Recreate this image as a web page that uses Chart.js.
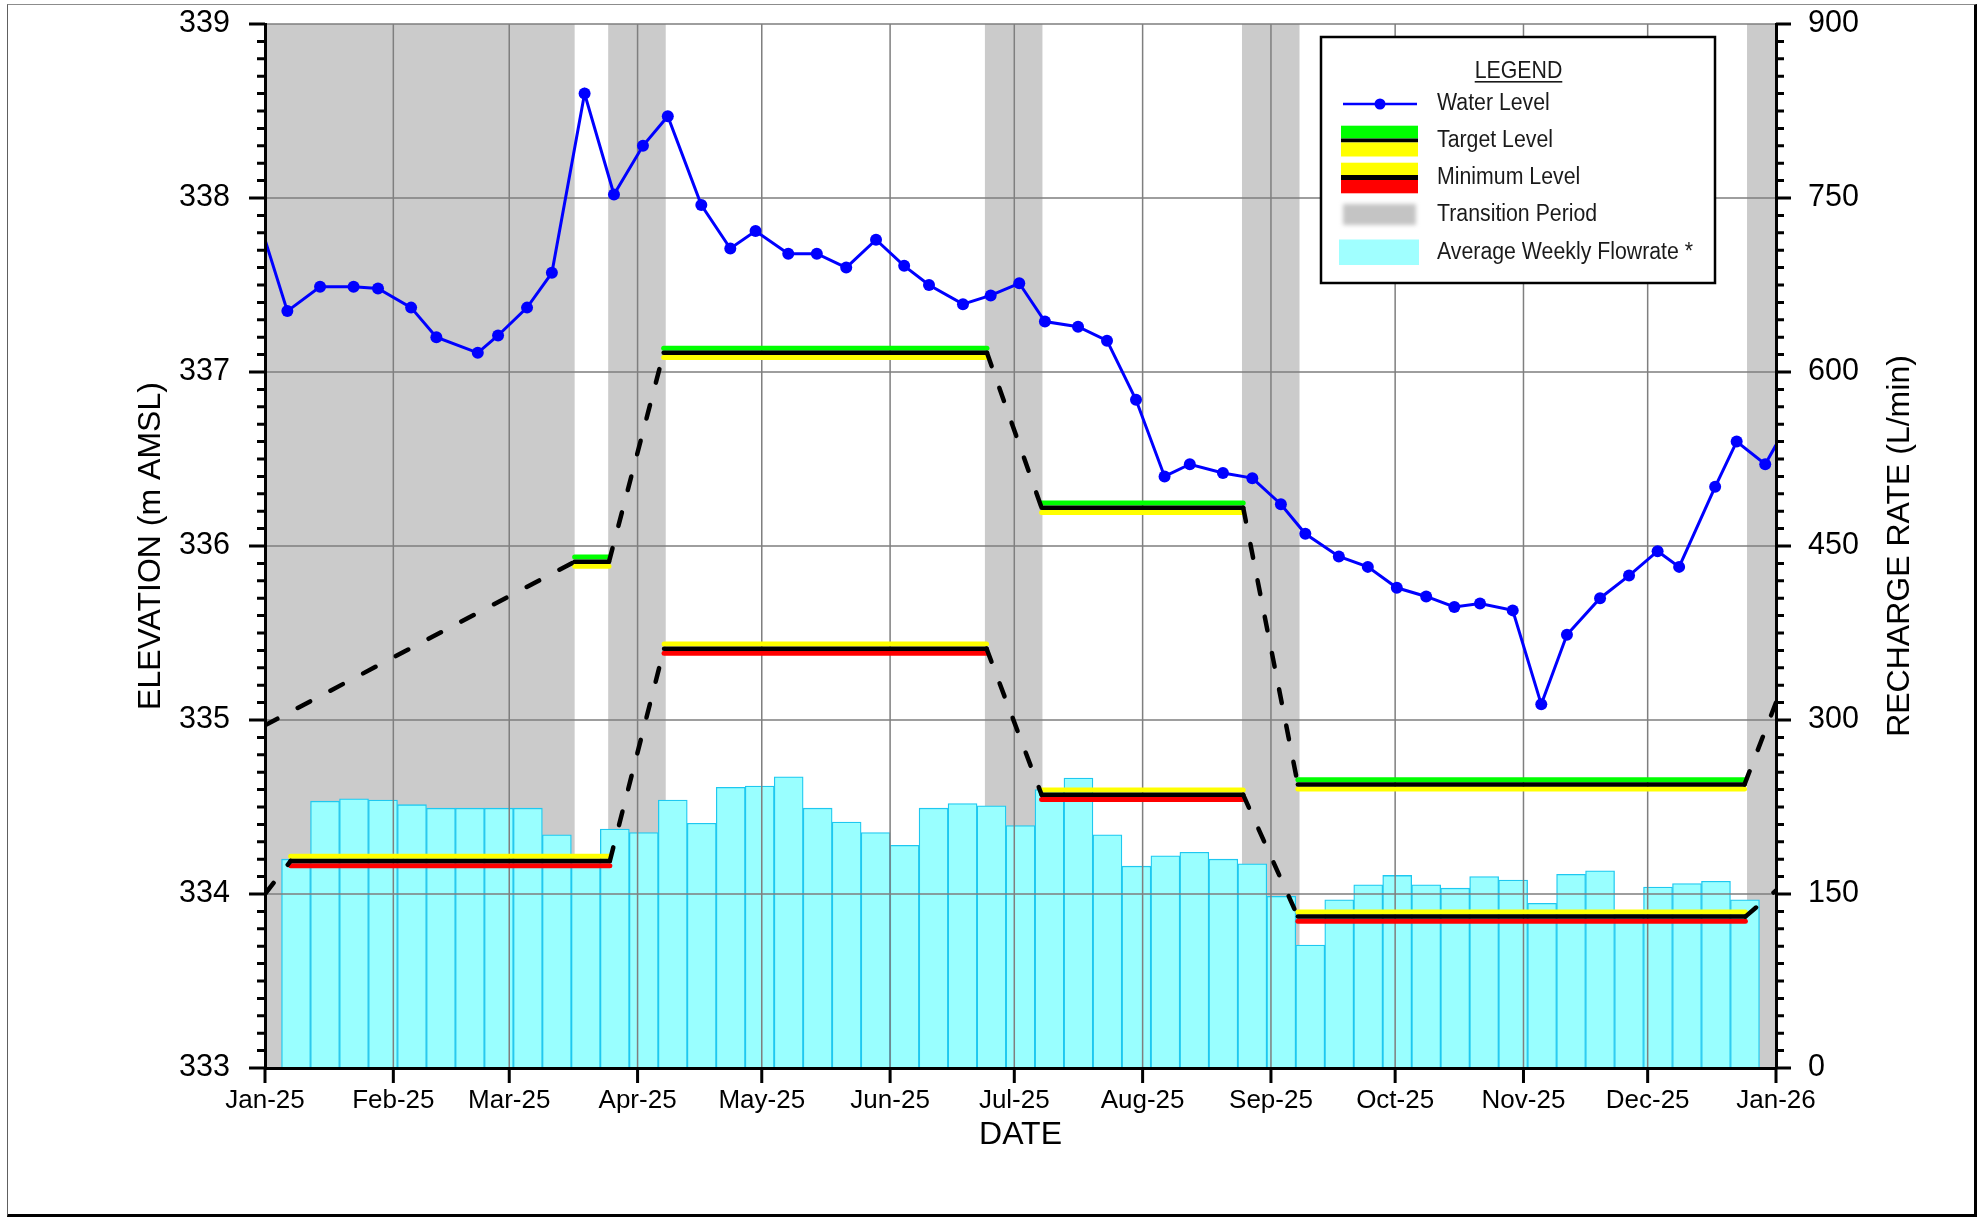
<!DOCTYPE html>
<html>
<head>
<meta charset="utf-8">
<title>Water Level and Recharge Rate 2025</title>
<script src="https://cdn.jsdelivr.net/npm/chart.js@4/dist/chart.umd.min.js"></script>
<style>
  html, body { margin: 0; padding: 0; background: #fff; }
  #wrap { position: relative; width: 1978px; height: 1217px; overflow: hidden; background: #fff; }
  #c { position: absolute; left: 0; top: 0; }
  #frame {
    position: absolute; left: 7px; top: 3.5px; width: 1970px; height: 1213px;
    box-sizing: border-box; pointer-events: none;
    border-top: 1.5px solid #8c8c8c; border-left: 1.5px solid #606060;
    border-right: 3px solid #000; border-bottom: 3px solid #000;
  }
</style>
</head>
<body>
<div id="wrap">
  <canvas id="c" width="1978" height="1217"></canvas>
  <div id="frame"></div>
</div>
<script>
// ---------- axis ticks (x values are days since 1 Jan 2025) ----------
const monthDays   = [0, 31, 59, 90, 120, 151, 181, 212, 243, 273, 304, 334, 365];
const monthLabels = ['Jan-25', 'Feb-25', 'Mar-25', 'Apr-25', 'May-25', 'Jun-25', 'Jul-25',
                     'Aug-25', 'Sep-25', 'Oct-25', 'Nov-25', 'Dec-25', 'Jan-26'];
const elevTicks = [333, 334, 335, 336, 337, 338, 339];
const rateTicks = [0, 150, 300, 450, 600, 750, 900];

// ---------- water level (m AMSL) ----------
const waterDay = [0, 5.4, 13.3, 21.4, 27.3, 35.3, 41.4, 51.4, 56.3, 63.3, 69.3, 77.2, 84.3, 91.3,
  97.3, 105.4, 112.4, 118.5, 126.4, 133.3, 140.4, 147.6, 154.4, 160.4, 168.6, 175.3, 182.2, 188.4,
  196.4, 203.4, 210.4, 217.3, 223.4, 231.4, 238.5, 245.4, 251.3, 259.4, 266.4, 273.4, 280.5, 287.3,
  293.5, 301.4, 308.3, 314.5, 322.5, 329.5, 336.4, 341.6, 350.3, 355.5, 362.4, 365];
const waterElev = [337.76, 337.35, 337.49, 337.49, 337.48, 337.37, 337.20, 337.11, 337.21, 337.37,
  337.57, 338.60, 338.02, 338.30, 338.47, 337.96, 337.71, 337.81, 337.68, 337.68, 337.60, 337.76,
  337.61, 337.50, 337.39, 337.44, 337.51, 337.29, 337.26, 337.18, 336.84, 336.40, 336.47, 336.42,
  336.39, 336.24, 336.07, 335.94, 335.88, 335.76, 335.71, 335.65, 335.67, 335.63, 335.09, 335.49,
  335.70, 335.83, 335.97, 335.88, 336.34, 336.60, 336.47, 336.58];

// ---------- target and minimum levels (m AMSL) ----------
const targetDay  = [0, 74.8, 83.1, 96.3, 174.4, 187.6, 236.3, 249.5, 357.4, 365];
const targetElev = [334.97, 335.91, 335.91, 337.11, 337.11, 336.22, 336.22, 334.63, 334.63, 335.10];
const minDay     = [0, 6.2, 83.3, 96.4, 174.3, 187.6, 236.3, 249.5, 357.6, 365];
const minElev    = [334.00, 334.19, 334.19, 335.41, 335.41, 334.57, 334.57, 333.87, 333.87, 334.02];

// ---------- transition periods (days) ----------
const transitionStart = [0, 82.9, 173.9, 236.0, 358.0];
const transitionEnd   = [74.8, 96.8, 187.8, 249.9, 365];

// ---------- average weekly flowrate (L/min), weeks starting on these days ----------
const flowWeekStart = [4, 11, 18, 25, 32, 39, 46, 53, 60, 67, 74, 81, 88, 95, 102, 109, 116, 123,
  130, 137, 144, 151, 158, 165, 172, 179, 186, 193, 200, 207, 214, 221, 228, 235, 242, 249, 256,
  263, 270, 277, 284, 291, 298, 305, 312, 319, 326, 333, 340, 347, 354];
const flowRate = [180, 230, 232, 231, 227, 224, 224, 224, 224, 201, 178, 206, 203, 231, 211, 242,
  243, 251, 224, 212, 203, 192, 224, 228, 226, 209, 240, 250, 201, 174, 183, 186, 180, 176, 148,
  106, 145, 158, 166, 158, 155, 165, 162, 142, 167, 170, 133, 156, 159, 161, 145];

const legendLabels = ['Water Level', 'Target Level', 'Minimum Level', 'Transition Period',
                      'Average Weekly Flowrate *'];

// ---------- styling ----------
const FONT = "'Liberation Sans', Arial, Helvetica, sans-serif";
const BLUE = 'rgb(0,0,255)';
const GREEN = 'rgb(0,255,0)';
const YELLOW = 'rgb(255,255,0)';
const RED = 'rgb(255,0,0)';
const SHADE = '#cbcbcb';
const GRID = '#7f7f7f';
const WEEK = 7;

Chart.defaults.font.family = FONT;
Chart.defaults.color = '#000';

const pts = (xs, ys) => xs.map((x, i) => ({ x, y: ys[i] }));
const flat = ctx => Math.abs(ctx.p0.y - ctx.p1.y) < 0.5;
const flowData = flowWeekStart.map((d, i) => ({ x: d + WEEK / 2, y: flowRate[i] }));

// one coloured band beside a level line (shifted a few pixels above or below it)
function band(label, xs, ys, color, shift) {
  return {
    type: 'line', label, data: pts(xs, ys), xAxisID: 'x', yAxisID: 'y',
    borderWidth: 5, pointRadius: 0, borderCapStyle: 'round', fill: false,
    segment: { borderColor: ctx => flat(ctx) ? color : 'rgba(0,0,0,0)' },
    yShift: shift, order: 2
  };
}
function levelLine(label, xs, ys) {
  return {
    type: 'line', label, data: pts(xs, ys), xAxisID: 'x', yAxisID: 'y',
    borderColor: '#000', borderWidth: 4.5, pointRadius: 0, borderCapStyle: 'round', fill: false,
    segment: { borderDash: ctx => flat(ctx) ? [] : [14, 23] },
    order: 1
  };
}

// keep the plot area fixed: the axis boxes are given exact sizes and no extra padding
function fixBox(size, horizontal) {
  return s => {
    if (horizontal) s.height = size; else s.width = size;
    s.paddingTop = 0; s.paddingBottom = 0;
    if (!horizontal) { s.paddingLeft = 0; s.paddingRight = 0; }
  };
}

// shaded transition periods behind everything
const shadePlugin = {
  id: 'shade',
  beforeDraw(chart) {
    const { ctx, chartArea: a, scales: { x } } = chart;
    ctx.save();
    ctx.fillStyle = SHADE;
    transitionStart.forEach((s, i) => {
      const x0 = x.getPixelForValue(s), x1 = x.getPixelForValue(transitionEnd[i]);
      ctx.fillRect(x0, a.top, x1 - x0, a.bottom - a.top);
    });
    ctx.restore();
  }
};

// level bands are offset vertically from their level line
const shiftPlugin = {
  id: 'shift',
  beforeDatasetDraw(chart, args) {
    const ds = chart.data.datasets[args.index];
    if (ds.yShift) { chart.ctx.save(); chart.ctx.translate(0, ds.yShift); }
  },
  afterDatasetDraw(chart, args) {
    const ds = chart.data.datasets[args.index];
    if (ds.yShift) chart.ctx.restore();
  }
};

// grid lines sit on top of the flowrate bars but below the level lines
const gridPlugin = {
  id: 'gridOverBars',
  afterDatasetDraw(chart, args) {
    if (chart.data.datasets[args.index].type !== 'bar') return;
    const { ctx, chartArea: a, scales: { x, y } } = chart;
    ctx.save();
    ctx.strokeStyle = GRID;
    ctx.lineWidth = 1.5;
    ctx.beginPath();
    elevTicks.slice(1).forEach(v => {
      const py = y.getPixelForValue(v);
      ctx.moveTo(a.left, py); ctx.lineTo(a.right, py);
    });
    monthDays.slice(1, -1).forEach(d => {
      const px = x.getPixelForValue(d);
      ctx.moveTo(px, a.top); ctx.lineTo(px, a.bottom);
    });
    ctx.stroke();
    ctx.restore();
  }
};

// major / minor tick marks, right-hand axis title and the legend box
const decorPlugin = {
  id: 'decor',
  afterDraw(chart) {
    const { ctx, chartArea: a, scales: { x, y, y1 } } = chart;
    ctx.save();
    ctx.strokeStyle = '#000';
    ctx.lineWidth = 3;
    ctx.beginPath();
    for (let i = 0; i < elevTicks.length; i++) {
      const steps = i < elevTicks.length - 1 ? 10 : 1;
      for (let k = 0; k < steps; k++) {
        const v = elevTicks[i] + (i < elevTicks.length - 1 ? (elevTicks[i + 1] - elevTicks[i]) * k / 10 : 0);
        const py = y.getPixelForValue(v);
        ctx.moveTo(a.left - (k === 0 ? 16 : 8), py); ctx.lineTo(a.left, py);
      }
    }
    for (let i = 0; i < rateTicks.length; i++) {
      const steps = i < rateTicks.length - 1 ? 10 : 1;
      for (let k = 0; k < steps; k++) {
        const v = rateTicks[i] + (i < rateTicks.length - 1 ? (rateTicks[i + 1] - rateTicks[i]) * k / 10 : 0);
        const py = y1.getPixelForValue(v);
        ctx.moveTo(a.right, py); ctx.lineTo(a.right + (k === 0 ? 15 : 8), py);
      }
    }
    monthDays.forEach(d => {
      const px = x.getPixelForValue(d);
      ctx.moveTo(px, a.bottom); ctx.lineTo(px, a.bottom + 15);
    });
    ctx.stroke();

    // right-hand axis title, read bottom to top
    ctx.save();
    ctx.translate(1900, (a.top + a.bottom) / 2);
    ctx.rotate(-Math.PI / 2);
    ctx.font = `32px ${FONT}`;
    ctx.fillStyle = '#000';
    ctx.textAlign = 'center';
    ctx.textBaseline = 'middle';
    ctx.fillText('RECHARGE RATE (L/min)', 0, 0);
    ctx.restore();

    // legend
    const L = { x: 1321, y: 37, w: 394, h: 246 };
    ctx.fillStyle = '#fff';
    ctx.fillRect(L.x, L.y, L.w, L.h);
    ctx.lineWidth = 2.5;
    ctx.strokeStyle = '#000';
    ctx.strokeRect(L.x, L.y, L.w, L.h);

    const sx = 1341, sw = 77;
    ctx.save();
    ctx.filter = 'blur(0.4px)';
    // water level symbol
    ctx.strokeStyle = BLUE; ctx.lineWidth = 2.5;
    ctx.beginPath(); ctx.moveTo(1343, 104); ctx.lineTo(1417, 104); ctx.stroke();
    ctx.fillStyle = BLUE;
    ctx.beginPath(); ctx.arc(1380, 104, 5.5, 0, Math.PI * 2); ctx.fill();
    // target level swatch
    ctx.fillStyle = GREEN;  ctx.fillRect(sx, 125.7, sw, 12.8);
    ctx.fillStyle = '#000'; ctx.fillRect(sx, 138.5, sw, 4);
    ctx.fillStyle = YELLOW; ctx.fillRect(sx, 142.5, sw, 14);
    // minimum level swatch
    ctx.fillStyle = YELLOW; ctx.fillRect(sx, 162.7, sw, 12.3);
    ctx.fillStyle = '#000'; ctx.fillRect(sx, 175, sw, 5);
    ctx.fillStyle = RED;    ctx.fillRect(sx, 180, sw, 13.3);
    // flowrate swatch
    ctx.fillStyle = 'rgb(160,255,255)'; ctx.fillRect(1339, 239.5, 80, 25.5);
    ctx.restore();
    // transition swatch (soft edged)
    ctx.save();
    ctx.filter = 'blur(2px)';
    ctx.fillStyle = '#c4c4c4';
    ctx.fillRect(sx + 2, 204, sw - 4, 21);
    ctx.restore();

    // legend text (slightly tall lettering)
    ctx.save();
    ctx.filter = 'blur(0.35px)';
    ctx.fillStyle = '#1a1a1a';
    ctx.font = `21.3px ${FONT}`;
    ctx.textBaseline = 'middle';
    const tall = 1.1;
    const drawText = (t, tx, ty, align) => {
      ctx.save();
      ctx.translate(tx, ty);
      ctx.scale(1, tall);
      ctx.textAlign = align;
      ctx.fillText(t, 0, 0);
      ctx.restore();
    };
    drawText('LEGEND', 1518.5, 72, 'center');
    const tw = ctx.measureText('LEGEND').width;
    ctx.fillRect(1518.5 - tw / 2, 81, tw, 1.6);
    const rowY = [103.5, 140.5, 177.5, 215, 252.5];
    legendLabels.forEach((t, i) => drawText(t, 1437, rowY[i], 'left'));
    ctx.restore();

    ctx.restore();
  }
};

new Chart(document.getElementById('c'), {
  type: 'line',
  data: {
    datasets: [
      {
        type: 'line', label: 'Water Level', data: pts(waterDay, waterElev), xAxisID: 'x', yAxisID: 'y',
        borderColor: BLUE, backgroundColor: BLUE, borderWidth: 3, tension: 0, fill: false,
        pointRadius: ctx => (ctx.dataIndex === 0 || ctx.dataIndex === waterDay.length - 1) ? 0 : 6,
        pointBorderWidth: 0, pointBackgroundColor: BLUE, order: 0
      },
      levelLine('Target Level', targetDay, targetElev),
      levelLine('Minimum Level', minDay, minElev),
      band('Target Level (upper)', targetDay, targetElev, GREEN, -4.7),
      band('Target Level (lower)', targetDay, targetElev, YELLOW, 4.7),
      band('Minimum Level (upper)', minDay, minElev, YELLOW, -4.7),
      band('Minimum Level (lower)', minDay, minElev, RED, 4.7),
      {
        type: 'bar', label: 'Average Weekly Flowrate', data: flowData, xAxisID: 'x', yAxisID: 'y1',
        backgroundColor: 'rgb(153,255,255)', borderColor: 'rgb(30,200,240)', borderWidth: 1.3,
        barPercentage: 1, categoryPercentage: 1, order: 10
      }
    ]
  },
  options: {
    responsive: false,
    animation: false,
    devicePixelRatio: 1,
    layout: { padding: { top: 24, left: 0, right: 0, bottom: 0 } },
    plugins: { legend: { display: false }, tooltip: { enabled: false } },
    scales: {
      x: {
        type: 'linear', position: 'bottom', min: 0, max: 365, offset: false,
        grid: { display: false, drawTicks: false, tickLength: 0 },
        border: { display: true, color: '#000', width: 3, z: 1 },
        afterBuildTicks: s => { s.ticks = monthDays.map(v => ({ value: v })); },
        afterFit: fixBox(149, true),
        ticks: {
          autoSkip: false, maxRotation: 0, minRotation: 0, padding: 17.4, color: '#000',
          font: { size: 26 },
          callback: v => monthLabels[monthDays.indexOf(v)]
        },
        title: { display: true, text: 'DATE', color: '#000', font: { size: 32 }, padding: { top: 0, bottom: 63 } }
      },
      y: {
        type: 'linear', position: 'left', min: 333, max: 339,
        grid: { display: false, drawTicks: false, tickLength: 0 },
        border: { display: true, color: '#000', width: 3, z: 1 },
        afterBuildTicks: s => { s.ticks = elevTicks.map(v => ({ value: v })); },
        afterFit: fixBox(265, false),
        ticks: { padding: 35, color: '#000', font: { size: 30.5 } },
        title: { display: true, text: 'ELEVATION (m AMSL)', color: '#000', font: { size: 32 }, padding: { top: 132, bottom: 0 } }
      },
      y1: {
        type: 'linear', position: 'right', min: 0, max: 900,
        grid: { display: false, drawTicks: false, tickLength: 0 },
        border: { display: true, color: '#000', width: 3, z: 1 },
        afterBuildTicks: s => { s.ticks = rateTicks.map(v => ({ value: v })); },
        afterFit: fixBox(202, false),
        ticks: { padding: 32, color: '#000', font: { size: 30.5 } },
        title: { display: false }
      }
    }
  },
  plugins: [shadePlugin, shiftPlugin, gridPlugin, decorPlugin]
});
</script>
</body>
</html>
